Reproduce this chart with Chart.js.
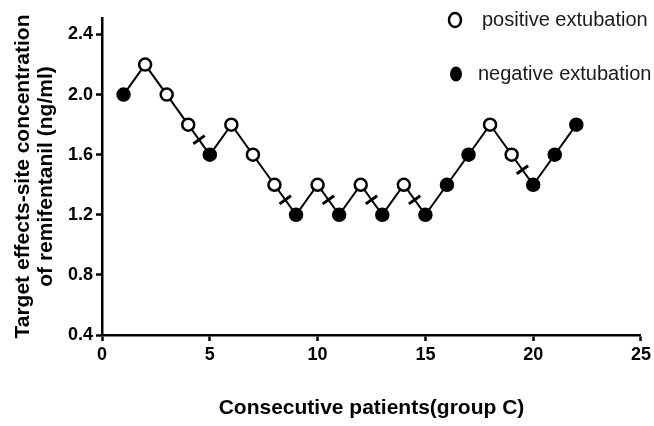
<!DOCTYPE html>
<html>
<head>
<meta charset="utf-8">
<script src="https://cdn.jsdelivr.net/npm/chart.js@4"></script>
<style>
  body { margin: 0; background: #fff; }
  #wrap { width: 654px; height: 426px; }
</style>
</head>
<body>
<div id="wrap"><canvas id="doseChart" width="654" height="426"></canvas></div>
<script>
// up-and-down sequence, group C
const patients = [1, 2, 3, 4, 5, 6, 7, 8, 9, 10, 11, 12, 13, 14, 15, 16, 17, 18, 19, 20, 21, 22];
const concentration = [2.0, 2.2, 2.0, 1.8, 1.6, 1.8, 1.6, 1.4, 1.2, 1.4, 1.2, 1.4, 1.2, 1.4, 1.2, 1.4, 1.6, 1.8, 1.6, 1.4, 1.6, 1.8];
// P = positive extubation (open), N = negative extubation (filled)
const outcome = ['N', 'P', 'P', 'P', 'N', 'P', 'P', 'P', 'N', 'P', 'N', 'P', 'N', 'P', 'N', 'N', 'N', 'P', 'P', 'N', 'N', 'N'];
// crossover midpoints
const crossX = [4.5, 8.5, 10.5, 12.5, 14.5, 19.5];
const crossY = [1.7, 1.3, 1.3, 1.3, 1.3, 1.5];

const xTicks = [0, 5, 10, 15, 20, 25];
const yTicks = [0.4, 0.8, 1.2, 1.6, 2.0, 2.4];

const FONT = '"Liberation Sans", Arial, sans-serif';

const legendLabels = ['positive extubation', 'negative extubation'];

const legendPlugin = {
  id: 'sideLegend',
  afterDraw(chart) {
    const c = chart.ctx;
    c.save();
    c.lineWidth = 2.5;
    c.strokeStyle = '#000';
    c.fillStyle = '#000';
    c.beginPath();
    c.ellipse(455, 20, 6, 7, 0, 0, Math.PI * 2);
    c.stroke();
    c.beginPath();
    c.ellipse(456, 74, 6, 7.5, 0, 0, Math.PI * 2);
    c.fill();
    c.font = '20px ' + FONT;
    c.textBaseline = 'middle';
    c.fillStyle = '#1a1a1a';
    c.fillText(legendLabels[0], 482, 20);
    c.fillText(legendLabels[1], 478, 74);
    c.restore();
  }
};

const ctx = document.getElementById('doseChart').getContext('2d');
const doseChart = new Chart(ctx, {
  type: 'line',
  data: {
    datasets: [
      {
        label: 'crossover',
        data: crossX.map((x, i) => ({ x: x, y: crossY[i] })),
        showLine: false,
        pointStyle: 'line',
        pointRadius: 7,
        pointBorderWidth: 3,
        pointBorderColor: '#000',
        pointRotation: c => {
          const xs = c.chart.scales.x, ys = c.chart.scales.y;
          const dx = xs.getPixelForValue(1) - xs.getPixelForValue(0);
          const dy = ys.getPixelForValue(0) - ys.getPixelForValue(0.2);
          return Math.atan2(dy, dx) * 180 / Math.PI - 90;
        },
        order: 0,
      },
      {
        label: 'concentration',
        data: patients.map((p, i) => ({ x: p, y: concentration[i] })),
        borderColor: '#000',
        borderWidth: 2,
        tension: 0,
        pointRadius: 6,
        pointBorderWidth: 2.5,
        pointBorderColor: '#000',
        pointBackgroundColor: outcome.map(o => (o === 'P' ? '#fff' : '#000')),
        order: 1,
      },
    ],
  },
  options: {
    responsive: false,
    animation: false,
    layout: { padding: { left: 0, right: 11, top: 18, bottom: 0 } },
    plugins: {
      legend: { display: false },
      tooltip: { enabled: false },
    },
    scales: {
      x: {
        type: 'linear',
        min: 0,
        max: 25,
        afterBuildTicks: s => { s.ticks = xTicks.map(v => ({ value: v })); },
        afterFit: s => { s.height = 91; },
        border: { display: true, color: '#000', width: 2.5 },
        grid: { display: true, drawOnChartArea: false, drawTicks: true, tickLength: 6, tickWidth: 2.5, tickColor: '#000' },
        ticks: { color: '#000', padding: 3, font: { family: FONT, size: 18, weight: 'bold' } },
        title: {
          display: true,
          text: 'Consecutive patients(group C)',
          color: '#000',
          padding: { top: 0, bottom: 5 },
          font: { family: FONT, size: 21, weight: 'bold', lineHeight: 1.2 },
        },
      },
      y: {
        type: 'linear',
        min: 0.4,
        max: 2.51,
        afterBuildTicks: s => { s.ticks = yTicks.map(v => ({ value: v })); },
        afterFit: s => { s.width = 102; },
        border: { display: true, color: '#000', width: 2.5 },
        grid: { display: true, drawOnChartArea: false, drawTicks: true, tickLength: 6, tickWidth: 2.5, tickColor: '#000' },
        ticks: {
          color: '#000',
          padding: 3,
          font: { family: FONT, size: 18, weight: 'bold' },
          callback: v => v.toFixed(1),
        },
        title: {
          display: true,
          text: ['Target effects-site concentration', 'of remifentanil (ng/ml)'],
          color: '#000',
          padding: { top: 12, bottom: 0 },
          font: { family: FONT, size: 21, weight: 'bold', lineHeight: 1.1 },
        },
      },
    },
  },
  plugins: [legendPlugin],
});
</script>
</body>
</html>
